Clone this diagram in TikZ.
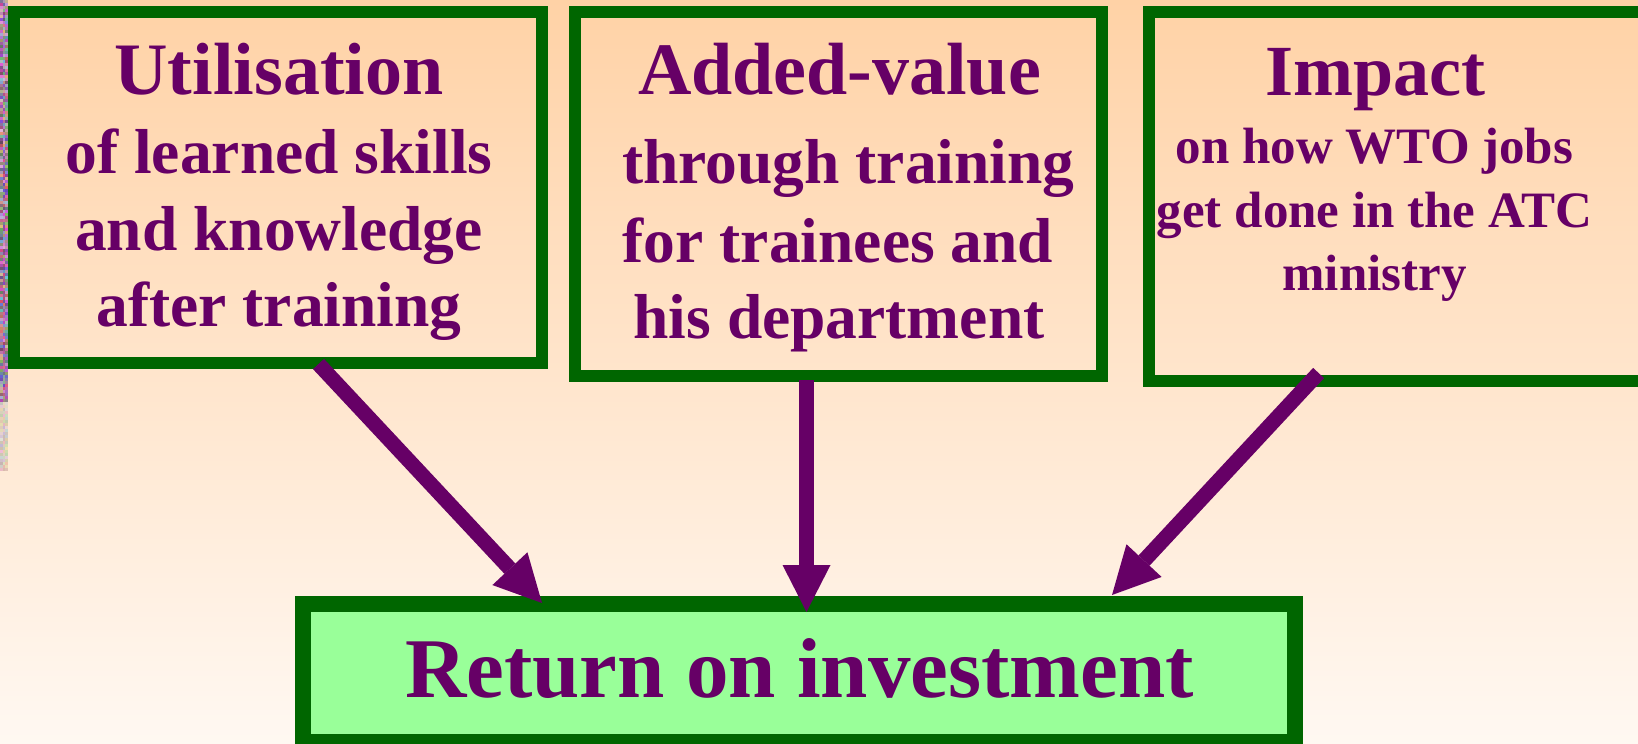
\documentclass[tikz,border=0pt]{standalone}
\usepackage{fontspec}
\setmainfont{Liberation Serif}
\usetikzlibrary{arrows.meta,calc}
\definecolor{bordergreen}{RGB}{0,102,0}
\definecolor{tpurple}{RGB}{102,0,102}
\definecolor{roifill}{RGB}{153,255,153}
\definecolor{bgtop}{RGB}{255,210,166}
\definecolor{bgbot}{RGB}{255,248,242}
\tikzset{
  box/.style={rectangle, draw=bordergreen, line width=12pt, inner sep=0pt, outer sep=0pt},
  roibox/.style={rectangle, draw=bordergreen, fill=roifill, line width=16pt, inner sep=0pt, outer sep=0pt},
  txt/.style={anchor=base, text=tpurple, inner sep=0pt, outer sep=0pt},
  ttl/.style={txt, font={\fontsize{74pt}{80pt}\selectfont\bfseries}},
  sub/.style={txt, font={\fontsize{63.5pt}{70pt}\selectfont\bfseries}},
  subs/.style={txt, font={\fontsize{51pt}{56pt}\selectfont\bfseries}},
  big/.style={txt, font={\fontsize{85pt}{90pt}\selectfont\bfseries}},
  arr/.style={draw=tpurple, line width=15pt, line cap=butt,
    -{Triangle[length=47pt,width=48pt,line width=0pt]}},
}
\begin{document}
\begin{tikzpicture}[x=1pt,y=1pt]
\useasboundingbox (0,0) rectangle (1638,-744);
\clip (0,0) rectangle (1638,-744);
\shade[top color=bgtop, bottom color=bgbot] (0,0) rectangle (1638,-744);
% noisy strip at the left edge
\pgfmathsetseed{7}
\foreach \yy in {0,3,...,468} {
  \foreach \xx in {0,2.5,5} {
    \ifnum\yy>400
      \pgfmathtruncatemacro{\rr}{random(195,240)}
      \pgfmathtruncatemacro{\gg}{random(180,225)}
      \pgfmathtruncatemacro{\bb}{random(170,215)}
    \else
      \pgfmathtruncatemacro{\rr}{random(100,230)}
      \pgfmathtruncatemacro{\gg}{random(70,190)}
      \pgfmathtruncatemacro{\bb}{random(100,220)}
    \fi
    \definecolor{rc}{RGB}{\rr,\gg,\bb}
    \fill[rc] (\xx,-\yy) rectangle ++(2.5,-3);
  }
}
% boxes
\node[box, minimum width=528pt, minimum height=351pt] (b1) at (278,-187.5) {};
\node[box, minimum width=527pt, minimum height=364pt] (b2) at (838.5,-194) {};
\node[box, minimum width=511pt, minimum height=369pt] (b3) at (1404.5,-196.5) {};
\node[roibox, minimum width=992pt, minimum height=138pt] (b4) at (799,-673) {};
% texts
\node[ttl] (t1a) at (279,-94) {Utilisation};
\node[sub] (t1b) at (279,-173) {of learned skills};
\node[sub] (t1c) at (279,-250) {and knowledge};
\node[sub] (t1d) at (279,-326) {after training};
\node[ttl] (t2a) at (839.5,-94) {Added-value};
\node[sub] (t2b) at (848.5,-183) {through training};
\node[sub] (t2c) at (838,-262) {for trainees and};
\node[sub] (t2d) at (839,-338) {his department};
\node[ttl, font={\fontsize{72pt}{78pt}\selectfont\bfseries}] (t3a) at (1375,-95) {Impact};
\node[subs] (t3b) at (1374.5,-163) {on how WTO jobs};
\node[subs] (t3c) at (1374.5,-227) {get done in the ATC};
\node[subs] (t3d) at (1374.5,-290) {ministry};
\node[big] (t4) at (799.5,-697) {Return on investment};
% arrows
\draw[arr] ($(b1.south west)+(304.5,-1)$) -- ($(b4.north west)+(239,1)$);
\draw[arr] ($(b2.south)+(-32,-4)$) -- ($(b4.north)+(7.5,-8)$);
\draw[arr] ($(b3.south west)+(169.6,8)$) -- ($(b4.north east)+(-183,9)$);
\end{tikzpicture}
\end{document}
